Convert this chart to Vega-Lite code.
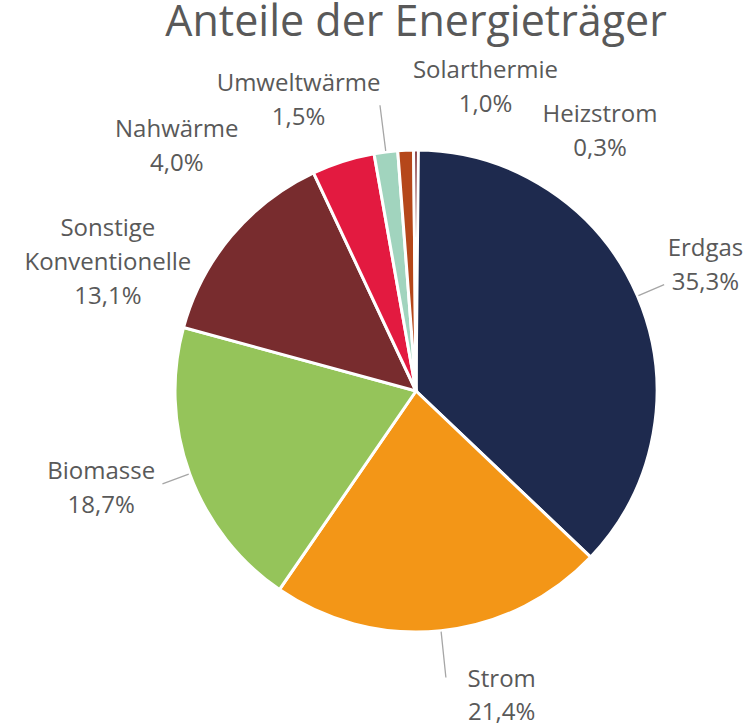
{
  "$schema": "https://vega.github.io/schema/vega-lite/v6.json",
  "autosize": {"type": "none"},
  "width": 600,
  "height": 600,
  "padding": {"left": 116, "top": 91, "right": 37, "bottom": 35},
  "background": "white",
  "title": {
    "text": "Anteile der Energieträger",
    "font": "Open Sans",
    "fontSize": 43,
    "fontWeight": "normal",
    "color": "#595959",
    "anchor": "middle",
    "frame": "group",
    "baseline": "alphabetic",
    "offset": -20
  },
  "config": {"view": {"stroke": null}},
  "data": {
    "values": [
      {"cat": "Erdgas", "label": "Erdgas\n35,3%", "value": 35.3, "order": 1},
      {"cat": "Strom", "label": "Strom\n21,4%", "value": 21.4, "order": 2},
      {"cat": "Biomasse", "label": "Biomasse\n18,7%", "value": 18.7, "order": 3},
      {"cat": "Sonstige Konventionelle", "label": "Sonstige\nKonventionelle\n13,1%", "value": 13.1, "order": 4},
      {"cat": "Nahwärme", "label": "Nahwärme\n4,0%", "value": 4.0, "order": 5},
      {"cat": "Umweltwärme", "label": "Umweltwärme\n1,5%", "value": 1.5, "order": 6},
      {"cat": "Solarthermie", "label": "Solarthermie\n1,0%", "value": 1.0, "order": 7},
      {"cat": "Heizstrom", "label": "Heizstrom\n0,3%", "value": 0.3, "order": 8}
    ]
  },
  "transform": [
    {"stack": "value", "groupby": [], "sort": [{"field": "order", "order": "ascending"}], "as": ["start", "end"]},
    {"calculate": "(datum.start + datum.end) / 2", "as": "mid"}
  ],
  "layer": [
    {
      "mark": {"type": "arc", "radius": 241, "stroke": "white", "strokeWidth": 3},
      "encoding": {
        "theta": {"field": "start", "type": "quantitative"},
        "theta2": {"field": "end"},
        "color": {
          "field": "cat",
          "type": "nominal",
          "scale": {
            "domain": ["Erdgas", "Strom", "Biomasse", "Sonstige Konventionelle", "Nahwärme", "Umweltwärme", "Solarthermie", "Heizstrom"],
            "range": ["#1E2A4E", "#F39617", "#95C45A", "#782C2E", "#E31A40", "#A1D4BE", "#B5471A", "#7F2F35"]
          },
          "legend": null
        }
      }
    },
    {
      "transform": [{"filter": "datum.cat === 'Erdgas' || datum.cat === 'Biomasse'"}],
      "mark": {"type": "arc", "radius": 242, "radius2": 270, "fill": null, "stroke": "#A6A6A6", "strokeWidth": 1.3},
      "encoding": {"theta": {"field": "mid", "type": "quantitative"}, "theta2": {"field": "mid"}}
    },
    {
      "transform": [{"filter": "datum.cat === 'Strom' || datum.cat === 'Umweltwärme'"}],
      "mark": {"type": "arc", "radius": 242, "radius2": 288, "fill": null, "stroke": "#A6A6A6", "strokeWidth": 1.3},
      "encoding": {"theta": {"field": "mid", "type": "quantitative"}, "theta2": {"field": "mid"}}
    },
    {"transform": [{"filter": "datum.cat === 'Erdgas'"}], "mark": {"type": "text", "radius": 315, "dx": 0, "dy": -18, "font": "Open Sans", "fontSize": 24, "lineHeight": 34, "align": "center", "baseline": "middle", "color": "#595959", "lineBreak": "\n"}, "encoding": {"theta": {"field": "mid", "type": "quantitative"}, "text": {"field": "label"}}},
    {"transform": [{"filter": "datum.cat === 'Strom'"}], "mark": {"type": "text", "radius": 315, "dx": 53, "dy": -24, "font": "Open Sans", "fontSize": 24, "lineHeight": 33, "align": "center", "baseline": "middle", "color": "#595959", "lineBreak": "\n"}, "encoding": {"theta": {"field": "mid", "type": "quantitative"}, "text": {"field": "label"}}},
    {"transform": [{"filter": "datum.cat === 'Biomasse'"}], "mark": {"type": "text", "radius": 315, "dx": -19, "dy": -27, "font": "Open Sans", "fontSize": 24, "lineHeight": 34, "align": "center", "baseline": "middle", "color": "#595959", "lineBreak": "\n"}, "encoding": {"theta": {"field": "mid", "type": "quantitative"}, "text": {"field": "label"}}},
    {"transform": [{"filter": "datum.cat === 'Sonstige Konventionelle'"}], "mark": {"type": "text", "radius": 315, "dx": -67, "dy": 41, "font": "Open Sans", "fontSize": 24, "lineHeight": 34, "align": "center", "baseline": "middle", "color": "#595959", "lineBreak": "\n"}, "encoding": {"theta": {"field": "mid", "type": "quantitative"}, "text": {"field": "label"}}},
    {"transform": [{"filter": "datum.cat === 'Nahwärme'"}], "mark": {"type": "text", "radius": 315, "dx": -144, "dy": 39, "font": "Open Sans", "fontSize": 24, "lineHeight": 34, "align": "center", "baseline": "middle", "color": "#595959", "lineBreak": "\n"}, "encoding": {"theta": {"field": "mid", "type": "quantitative"}, "text": {"field": "label"}}},
    {"transform": [{"filter": "datum.cat === 'Umweltwärme'"}], "mark": {"type": "text", "radius": 315, "dx": -78, "dy": 6, "font": "Open Sans", "fontSize": 24, "lineHeight": 34, "align": "center", "baseline": "middle", "color": "#595959", "lineBreak": "\n"}, "encoding": {"theta": {"field": "mid", "type": "quantitative"}, "text": {"field": "label"}}},
    {"transform": [{"filter": "datum.cat === 'Solarthermie'"}], "mark": {"type": "text", "radius": 315, "dx": 83, "dy": -5, "font": "Open Sans", "fontSize": 24, "lineHeight": 34, "align": "center", "baseline": "middle", "color": "#595959", "lineBreak": "\n"}, "encoding": {"theta": {"field": "mid", "type": "quantitative"}, "text": {"field": "label"}}},
    {"transform": [{"filter": "datum.cat === 'Heizstrom'"}], "mark": {"type": "text", "radius": 315, "dx": 184, "dy": 39, "font": "Open Sans", "fontSize": 24, "lineHeight": 34, "align": "center", "baseline": "middle", "color": "#595959", "lineBreak": "\n"}, "encoding": {"theta": {"field": "mid", "type": "quantitative"}, "text": {"field": "label"}}}
  ]
}
